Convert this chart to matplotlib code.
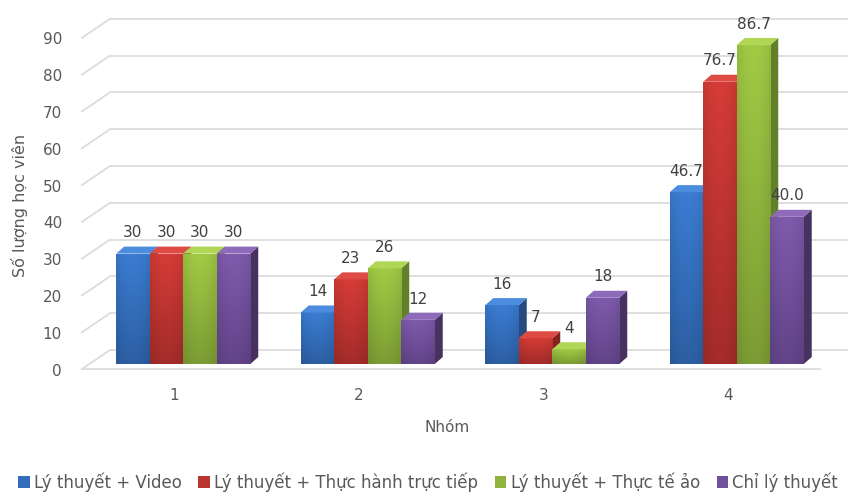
import numpy as np
import matplotlib
matplotlib.use("Agg")
import matplotlib.pyplot as plt
from matplotlib.patches import Polygon, Patch
import matplotlib.colors as mcolors

# ---- data ----
groups = [1, 2, 3, 4]
group_labels = ["1", "2", "3", "4"]
series_names = ["Lý thuyết + Video",
                "Lý thuyết + Thực hành trực tiếp",
                "Lý thuyết + Thực tế ảo",
                "Chỉ lý thuyết"]
video = [30, 14, 16, 46.7]
practice = [30, 23, 7, 76.7]
virtual = [30, 26, 4, 86.7]
theory_only = [30, 12, 18, 40.0]
label_formats = ["{:.0f}", "{:.0f}", "{:.0f}", "{:.1f}"]
y_ticks = [0, 10, 20, 30, 40, 50, 60, 70, 80, 90]

series = [video, practice, virtual, theory_only]

# front-face gradient (top, bottom), side face, top face
palette = [
    ("#3B7DD3", "#2C5FA3", "#264B7E", "#4C8CDE"),
    ("#D63C37", "#A32C2A", "#87231F", "#DE4B45"),
    ("#A2CB45", "#7C9C34", "#62802A", "#B1D656"),
    ("#7F5BAD", "#624489", "#46315F", "#8E6BBA"),
]

W, H, DPI = 848, 495, 100
fig = plt.figure(figsize=(W / DPI, H / DPI), dpi=DPI)

# plane of the bar front faces, in pixels
x_left_px, x_right_px = 91, 829
y0_px, y90_px = 364, 32.8
ax = fig.add_axes([x_left_px / W, (H - y0_px) / H,
                   (x_right_px - x_left_px) / W, (y0_px - y90_px) / H])
ax.set_xlim(0.5, 4.5)
ax.set_ylim(0, 90)
ax.axis("off")

px_x = (x_right_px - x_left_px) / 4.0      # pixels per x unit
px_y = (y0_px - y90_px) / 90.0             # pixels per y unit


def dx(p):
    return p / px_x


def dy(p):
    return p / px_y


grid_col = "#DCDCDC"
front_off = (dx(-9), dy(-5))
back_off = (dx(19), dy(14))

# back wall gridlines and the left floor/wall diagonals
for v in y_ticks:
    ax.plot([0.5 + back_off[0], 4.5 + back_off[0]],
            [v + back_off[1], v + back_off[1]],
            color=grid_col, lw=1.3, zorder=0.5, clip_on=False,
            solid_capstyle="butt")
    ax.plot([0.5 + front_off[0], 0.5 + back_off[0]],
            [v + front_off[1], v + back_off[1]],
            color=grid_col, lw=1.3, zorder=0.5, clip_on=False)
    ax.text(0.5 + front_off[0] - dx(20), v + front_off[1] - dy(2), str(v),
            ha="right", va="center", fontsize=11, color="#595959")

# front floor edge
ax.plot([0.5 + front_off[0], 4.5 + front_off[0]],
        [front_off[1], front_off[1]],
        color=grid_col, lw=1.3, zorder=0.5, clip_on=False)

# category labels
for g, lab in zip(groups, group_labels):
    ax.text(g + front_off[0], dy(-31), lab, ha="center", va="center",
            fontsize=11, color="#595959")

# ---- bars ----
n = len(series)
bw = 33.5 / px_x
ddx, ddy = dx(8), dy(7)

for gi, g in enumerate(groups):
    x0 = g - n * bw / 2
    for si, vals in enumerate(series):
        v = vals[gi]
        top_c, bot_c, side_c, lid_c = palette[si]
        xl = x0 + si * bw
        xr = xl + bw
        z = 2 + (gi * n + si) * 0.01
        # right side face
        ax.add_patch(Polygon([(xr, 0), (xr, v), (xr + ddx, v + ddy),
                              (xr + ddx, ddy)], closed=True,
                             facecolor=side_c, edgecolor="none", zorder=z))
        # front face
        bars = ax.bar(xl, v, width=bw, align="edge", color=bot_c,
                      edgecolor="none", zorder=z + 0.001)
        rect = bars.patches[0]
        c1 = np.array(mcolors.to_rgb(top_c))
        c2 = np.array(mcolors.to_rgb(bot_c))
        t = np.linspace(0, 1, 128)[:, None, None]
        grad = c1 * (1 - t) + c2 * t
        grad = np.repeat(grad, 16, axis=1)
        shade = 1 - 0.08 * np.abs(np.linspace(-1, 1, 16)) ** 2
        grad = np.clip(grad * shade[None, :, None], 0, 1)
        im = ax.imshow(grad, extent=[xl, xr, 0, v], aspect="auto",
                       interpolation="bilinear", zorder=z + 0.002)
        im.set_clip_path(rect)
        # top face
        ax.add_patch(Polygon([(xl, v), (xr, v), (xr + ddx, v + ddy),
                              (xl + ddx, v + ddy)], closed=True,
                             facecolor=lid_c, edgecolor="none", zorder=z + 0.003))
        # value label
        ax.annotate(label_formats[gi].format(v), xy=(xl + bw / 2, v),
                    xytext=(0, 15), textcoords="offset points",
                    ha="center", va="center", fontsize=11, color="#404040",
                    zorder=5)

ax.set_xlim(0.5, 4.5)
ax.set_ylim(0, 90)

# axis titles
fig.text(20 / W, 1 - 205 / H, "Số lượng học viên", rotation=90,
         ha="center", va="center", fontsize=11.5, color="#595959")
fig.text(447 / W, 1 - 427 / H, "Nhóm", ha="center", va="center",
         fontsize=11, color="#595959")

# legend
handles = [Patch(facecolor=mcolors.to_hex(
    (np.array(mcolors.to_rgb(p[0])) + np.array(mcolors.to_rgb(p[1]))) / 2),
    edgecolor="none") for p in palette]
fig.legend(handles, series_names, loc="center", ncol=4,
           bbox_to_anchor=(428 / W, 1 - 482 / H), frameon=False,
           fontsize=12, handlelength=0.7, handleheight=0.7,
           handletextpad=0.25, columnspacing=1.0, labelcolor="#595959",
           borderpad=0.0)

fig.savefig("out.png", dpi=DPI)
